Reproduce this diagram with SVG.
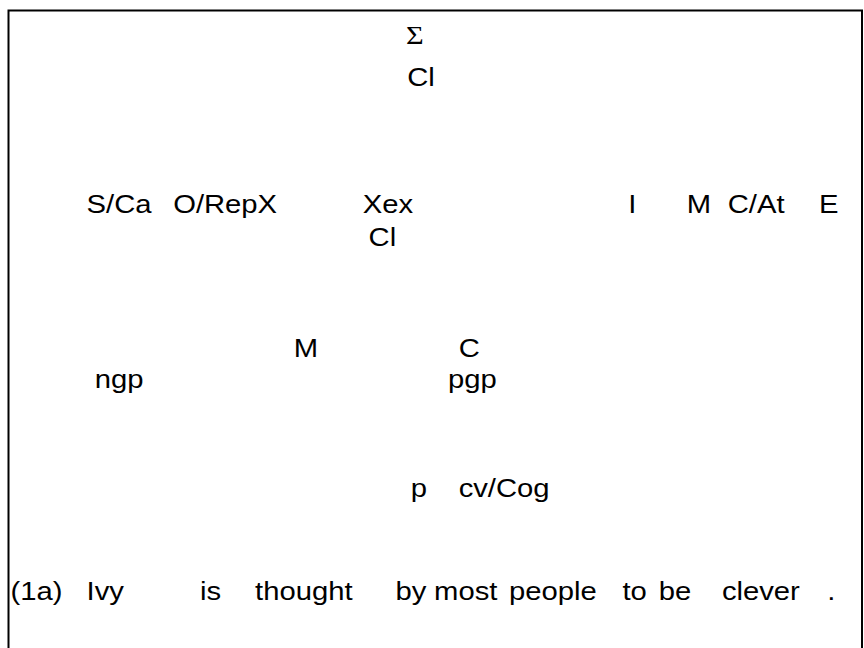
<svg xmlns="http://www.w3.org/2000/svg" width="864" height="648" viewBox="0 0 864 648">
  <style>
    .lbl { font-family: "Liberation Sans", Arial, sans-serif; font-size: 25px; fill: #000; }
    .sym { font-family: "Liberation Serif", "Times New Roman", serif; font-size: 26px; fill: #000; }
    .frame { fill: none; stroke: #000; stroke-width: 2; }
  </style>
  <rect width="864" height="648" fill="#fff"/>
  <!-- outer frame, open at the bottom edge of the page -->
  <rect class="frame" x="8.5" y="10.5" width="853.5" height="700"/>
  <g id="connectors"/>
  <!-- labels are drawn in a horizontally widened space: x values are divided by 1.17 -->
  <g transform="scale(1.17 1)">
    <g id="n-sigma"><text class="sym" x="347" y="44">Σ</text></g>
    <g id="n-cl-top"><text class="lbl" x="348" y="86">Cl</text></g>
    <g id="n-sca"><text class="lbl" x="74" y="213">S/Ca</text></g>
    <g id="n-orepx"><text class="lbl" x="148" y="213">O/RepX</text></g>
    <g id="n-xex"><text class="lbl" x="310" y="213">Xex</text></g>
    <g id="n-cl-mid"><text class="lbl" x="315" y="246">Cl</text></g>
    <g id="n-i"><text class="lbl" x="537" y="213">I</text></g>
    <g id="n-m-top"><text class="lbl" x="587" y="213">M</text></g>
    <g id="n-cat"><text class="lbl" x="622" y="213">C/At</text></g>
    <g id="n-e"><text class="lbl" x="700" y="213">E</text></g>
    <g id="n-m"><text class="lbl" x="251" y="357">M</text></g>
    <g id="n-c"><text class="lbl" x="392" y="357">C</text></g>
    <g id="n-ngp"><text class="lbl" x="81" y="388">ngp</text></g>
    <g id="n-pgp"><text class="lbl" x="383" y="388">pgp</text></g>
    <g id="n-p"><text class="lbl" x="351" y="497">p</text></g>
    <g id="n-cvcog"><text class="lbl" x="392" y="497">cv/Cog</text></g>
    <g id="sentence">
      <text class="lbl" x="9" y="600">(1a)</text>
      <text class="lbl" x="74" y="600">Ivy</text>
      <text class="lbl" x="171" y="600">is</text>
      <text class="lbl" x="218" y="600">thought</text>
      <text class="lbl" x="338" y="600">by</text>
      <text class="lbl" x="371" y="600">most</text>
      <text class="lbl" x="435" y="600">people</text>
      <text class="lbl" x="532" y="600">to</text>
      <text class="lbl" x="563" y="600">be</text>
      <text class="lbl" x="617" y="600">clever</text>
      <text class="lbl" x="707" y="600">.</text>
    </g>
  </g>
</svg>
